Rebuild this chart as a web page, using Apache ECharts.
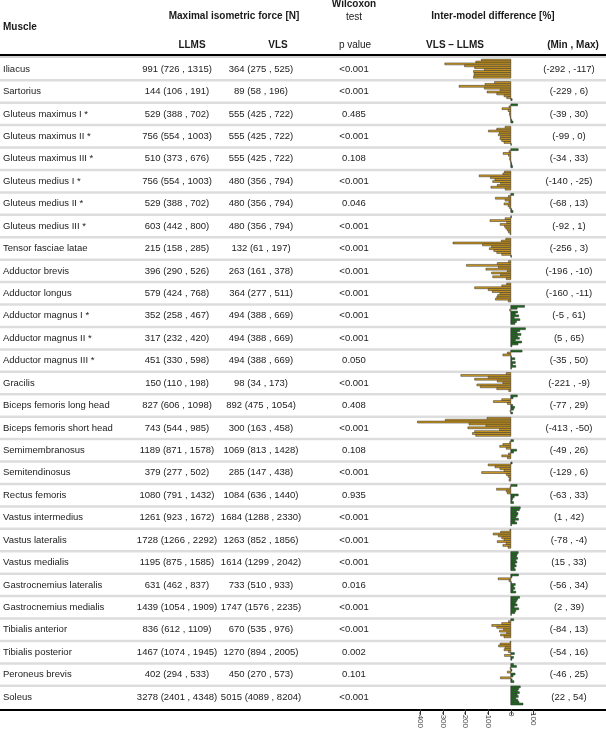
<!DOCTYPE html>
<html><head><meta charset="utf-8">
<script src="https://cdn.jsdelivr.net/npm/echarts@6/dist/echarts.min.js"></script>
<style>html,body{margin:0;padding:0;background:#fff}#c{width:606px;height:731px}</style>
</head><body><div id="c"></div>
<script>
const muscles = ["Iliacus","Sartorius","Gluteus maximus I *","Gluteus maximus II *","Gluteus maximus III *","Gluteus medius I *","Gluteus medius II *","Gluteus medius III *","Tensor fasciae latae","Adductor brevis","Adductor longus","Adductor magnus I *","Adductor magnus II *","Adductor magnus III *","Gracilis","Biceps femoris long head","Biceps femoris short head","Semimembranosus","Semitendinosus","Rectus femoris","Vastus intermedius","Vastus lateralis","Vastus medialis","Gastrocnemius lateralis","Gastrocnemius medialis","Tibialis anterior","Tibialis posterior","Peroneus brevis","Soleus"];
const llmsMedian = [991,144,529,756,510,756,529,603,215,396,579,352,317,451,150,827,743,1189,379,1080,1261,1728,1195,631,1439,836,1467,402,3278];
const llmsLow    = [726,106,388,554,373,554,388,442,158,290,424,258,232,330,110,606,544,871,277,791,923,1266,875,462,1054,612,1074,294,2401];
const llmsHigh   = [1315,191,702,1003,676,1003,702,800,285,526,768,467,420,598,198,1098,985,1578,502,1432,1672,2292,1585,837,1909,1109,1945,533,4348];
const vlsMedian  = [364,89,555,555,555,480,480,480,132,263,364,494,494,494,98,892,300,1069,285,1084,1684,1263,1614,733,1747,670,1270,450,5015];
const vlsLow     = [275,58,425,425,425,356,356,356,61,161,277,388,388,388,34,475,163,813,147,636,1288,852,1299,510,1576,535,894,270,4089];
const vlsHigh    = [525,196,722,722,722,794,794,794,197,378,511,669,669,669,173,1054,458,1428,438,1440,2330,1856,2042,933,2235,976,2005,573,8204];
const pValues    = ["<0.001","<0.001","0.485","<0.001","0.108","<0.001","0.046","<0.001","<0.001","<0.001","<0.001","<0.001","<0.001","0.050","<0.001","0.408","<0.001","0.108","<0.001","0.935","<0.001","<0.001","<0.001","0.016","<0.001","<0.001","0.002","0.101","<0.001"];
const diffMin    = [-292,-229,-39,-99,-34,-140,-68,-92,-256,-196,-160,-5,5,-35,-221,-77,-413,-49,-129,-63,1,-78,15,-56,2,-84,-54,-46,22];
const diffMax    = [-117,6,30,0,33,-25,13,1,3,-10,-11,61,65,50,-9,29,-50,26,6,33,42,-4,33,34,39,13,16,25,54];
// per-subject inter-model differences (VLS - LLMS) [%]
const diffValues = [
  [-130,-155,-292,-205,-160,-117,-165,-162,-163,-165],
  [-72,-114,-229,-117,-47,-105,-62,-30,-18,6],
  [30,-8,-39,-12,-5,-6,-3,-2,4,10],
  [-25,-62,-99,-50,-55,-45,-48,-40,-30,0],
  [33,-8,-34,-10,-4,-5,-2,2,5,8],
  [-28,-35,-140,-90,-70,-80,-45,-60,-88,-25],
  [13,-10,-68,-25,-8,-30,-12,-5,4,10],
  [1,-25,-92,-18,-47,-28,-22,-15,-10,-3],
  [-22,-42,-256,-125,-85,-95,-75,-62,-40,3],
  [-10,-60,-196,-55,-110,-15,-85,-45,-80,-20],
  [-18,-40,-160,-100,-82,-48,-58,-62,-68,-11],
  [61,28,-5,30,20,35,15,40,25,18],
  [65,40,28,45,30,38,20,48,32,5],
  [50,-15,-35,3,18,4,20,8,22,2],
  [-20,-221,-100,-160,-60,-35,-150,-135,-62,-9],
  [29,10,-40,-77,-15,8,17,12,-3,8],
  [-105,-290,-413,-185,-110,-190,-50,-160,-170,-155],
  [12,-5,-35,-49,-20,26,12,-10,-40,-15],
  [6,-100,-70,-48,-30,-129,-20,-12,-5,-8],
  [28,-3,-63,-20,-15,33,15,8,5,12],
  [42,38,25,32,28,22,34,18,26,1],
  [-4,-45,-78,-55,-40,-30,-60,-20,-35,-12],
  [33,28,25,30,22,27,18,24,15,20],
  [34,5,-56,-8,0,20,12,18,10,22],
  [39,30,25,20,28,15,35,22,18,2],
  [13,-10,-40,-84,-62,-32,-50,-18,-45,-30],
  [-3,-47,-54,-25,-30,-10,16,-28,12,5],
  [12,25,-3,5,-15,19,10,-46,6,14],
  [42,35,30,38,28,33,22,31,36,54]
];
const xTicks = [-400,-300,-200,-100,0,100];

const FONT = '"Liberation Sans", Arial, sans-serif';
const ORANGE = '#CF9A20', GREEN = '#1D6F1D';
const N = muscles.length;
const TOP = 57.8, ROWH = 22.43;
const BOTTOM = 731 - (TOP + N * ROWH);
const COL = {name: 3, llms: 177, vls: 261, p: 354, mm: 569};

const chart = echarts.init(document.getElementById('c'));

function tableRender(params, api) {
  const i = api.value(0);
  const yc = api.coord([0, i + 0.5])[1];
  const yb = api.coord([0, i + 1])[1];
  const children = [];
  if (i < N - 1) {
    children.push({type: 'line', shape: {x1: 0, y1: yb, x2: 606, y2: yb}, style: {stroke: '#dddddd', lineWidth: 2.5}});
  }
  const t = (x, txt, align) => ({type: 'text', x: x, y: yc, style: {text: txt, font: '9.5px ' + FONT, fill: '#222', align: align, verticalAlign: 'middle'}});
  children.push(t(COL.name, muscles[i], 'left'));
  children.push(t(COL.llms, llmsMedian[i] + ' (' + llmsLow[i] + ' , ' + llmsHigh[i] + ')', 'center'));
  children.push(t(COL.vls, vlsMedian[i] + ' (' + vlsLow[i] + ' , ' + vlsHigh[i] + ')', 'center'));
  children.push(t(COL.p, pValues[i], 'center'));
  children.push(t(COL.mm, '(' + diffMin[i] + ' , ' + diffMax[i] + ')', 'center'));
  return {type: 'group', children: children};
}

function barRender(params, api) {
  const v = api.value(0), row = api.value(1), j = api.value(2), n = api.value(3);
  const padT = 0.06, padB = 0.09, span = 1 - padT - padB;
  const y0 = api.coord([0, row + padT + span * j / n])[1];
  const y1 = api.coord([0, row + padT + span * (j + 1) / n])[1];
  const x0 = api.coord([0, row])[0], x1 = api.coord([v, row])[0];
  return {type: 'rect', shape: {x: Math.min(x0, x1), y: y0, width: Math.max(Math.abs(x1 - x0), 0.6), height: y1 - y0},
    style: {fill: v < 0 ? ORANGE : GREEN, stroke: '#2b2b2b', lineWidth: 0.5}};
}

const tableData = muscles.map((m, i) => [i]);
const barData = [];
diffValues.forEach((arr, i) => arr.forEach((v, j) => barData.push([v, i, j, arr.length])));

const hdr = (x, y, txt, align) => ({type: 'text', x: x, y: y, style: {text: txt, font: 'bold 10px ' + FONT, fill: '#1a1a1a', align: align || 'center', verticalAlign: 'middle'}});
const plain = (x, y, txt) => ({type: 'text', x: x, y: y, style: {text: txt, font: '10px ' + FONT, fill: '#1a1a1a', align: 'center', verticalAlign: 'middle'}});

chart.setOption({
  animation: false,
  grid: [
    {left: 0, right: 0, top: TOP, bottom: BOTTOM},
    {left: 408, right: 71.5, top: TOP, bottom: BOTTOM}
  ],
  xAxis: [
    {gridIndex: 0, type: 'value', min: 0, max: 606, show: false},
    {gridIndex: 1, type: 'value', min: -455, max: 105, position: 'bottom', offset: 2,
      axisLine: {show: false, onZero: false}, splitLine: {show: false},
      axisTick: {show: true, customValues: xTicks, length: 6, lineStyle: {color: '#333', width: 1}},
      axisLabel: {customValues: xTicks, rotate: -90, fontSize: 8, color: '#444', margin: 3, fontFamily: FONT}}
  ],
  yAxis: [
    {gridIndex: 0, type: 'value', min: 0, max: N, inverse: true, show: false},
    {gridIndex: 1, type: 'value', min: 0, max: N, inverse: true, show: false}
  ],
  series: [
    {type: 'custom', xAxisIndex: 0, yAxisIndex: 0, data: tableData, renderItem: tableRender, z: 1, silent: true},
    {type: 'custom', xAxisIndex: 1, yAxisIndex: 1, data: barData, renderItem: barRender, z: 2, silent: true, encode: {x: 0, y: 1}}
  ],
  graphic: [
    hdr(3, 27, 'Muscle', 'left'),
    hdr(234, 16, 'Maximal isometric force [N]'),
    hdr(192, 45, 'LLMS'),
    hdr(278, 45, 'VLS'),
    hdr(354, 4, 'Wilcoxon'),
    plain(354, 17, 'test'),
    plain(355, 45, 'p value'),
    hdr(493, 16, 'Inter-model difference [%]'),
    hdr(455, 45, 'VLS \u2013 LLMS'),
    hdr(573, 45, '(Min , Max)'),
    {type: 'line', shape: {x1: 0, y1: 55, x2: 606, y2: 55}, style: {stroke: '#000', lineWidth: 2}},
    {type: 'line', shape: {x1: 0, y1: 57, x2: 606, y2: 57}, style: {stroke: '#aaa', lineWidth: 1}},
    {type: 'line', shape: {x1: 0, y1: 710, x2: 606, y2: 710}, style: {stroke: '#000', lineWidth: 2}}
  ]
});
</script></body></html>
